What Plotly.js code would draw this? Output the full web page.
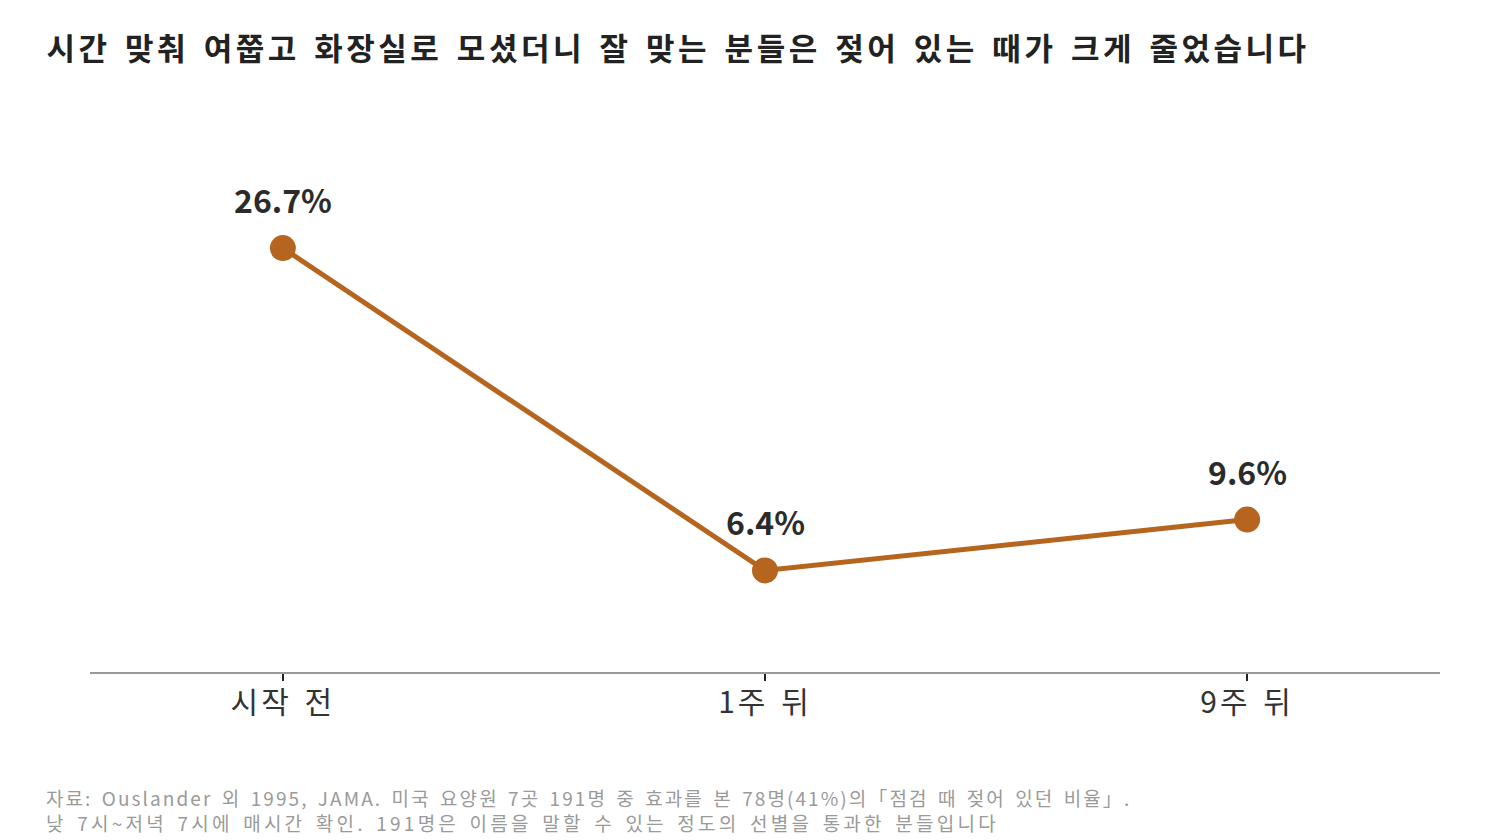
<!DOCTYPE html>
<html><head><meta charset="utf-8">
<script src="https://cdn.plot.ly/plotly-3.0.1.min.js"></script>
<style>html,body{margin:0;padding:0;background:#fff;}#chart{width:1500px;height:840px;}</style>
</head><body><div id="chart"></div>
<script>
const categories = ['시작 전', '1주 뒤', '9주 뒤'];
const wetRate = [26.7, 6.4, 9.6];
const valueLabels = ['26.7%', '6.4%', '9.6%'];
const titleText = '시간 맞춰 여쭙고 화장실로 모셨더니 잘 맞는 분들은 젖어 있는 때가 크게 줄었습니다';
const footerLines = [
  '자료: Ouslander 외 1995, JAMA. 미국 요양원 7곳 191명 중 효과를 본 78명(41%)의「점검 때 젖어 있던 비율」.',
  '낮 7시~저녁 7시에 매시간 확인. 191명은 이름을 말할 수 있는 정도의 선별을 통과한 분들입니다'
];
const footerWidths = [1085, 953];

const font = '"Noto Sans CJK KR", "Noto Sans", sans-serif';
const xIdx = categories.map((c, i) => i);

const trace = {
  x: xIdx, y: wetRate, type: 'scatter', mode: 'lines+markers',
  line: {color: '#B5651D', width: 5},
  marker: {color: '#B5651D', size: 26},
  cliponaxis: false, hoverinfo: 'skip'
};

const valueAnnotations = xIdx.map((xi, i) => ({
  x: xi, y: wetRate[i], xref: 'x', yref: 'y', text: valueLabels[i],
  showarrow: false, yshift: 49, xanchor: 'center', yanchor: 'middle',
  font: {family: font, size: 32, color: '#2b2b2b', weight: 'bold'}
}));

const footerAnnotation = {
  text: footerLines.join('<br>'), xref: 'paper', yref: 'paper', x: -0.033, xanchor: 'left',
  y: -0.2447, yanchor: 'middle', align: 'left', showarrow: false, borderpad: 0,
  font: {family: font, size: 19, color: '#9a9a9a'}
};

const layout = {
  width: 1500, height: 840,
  paper_bgcolor: '#fff', plot_bgcolor: '#fff',
  margin: {l: 90, r: 60, t: 110, b: 168},
  showlegend: false,
  font: {family: font},
  title: {text: titleText, x: 0.031, xanchor: 'left', y: 0.941, yanchor: 'middle',
          font: {family: font, size: 31, color: '#222', weight: 'bold'}},
  xaxis: {range: [-0.4, 2.4], tickvals: xIdx, ticktext: categories,
          showgrid: false, zeroline: false, showline: true, linecolor: '#999', linewidth: 2,
          ticks: 'outside', ticklen: 7, tickcolor: '#222', tickwidth: 2,
          ticklabelstandoff: -4,
          tickfont: {family: font, size: 30, color: '#333'}, fixedrange: true},
  yaxis: {range: [0, 35.4], visible: false, showgrid: false, zeroline: false, fixedrange: true},
  annotations: valueAnnotations.concat([footerAnnotation])
};

function spreadTo(el, target, wordSp) {
  el.style.wordSpacing = wordSp + 'px';
  el.style.letterSpacing = '0px';
  const w = el.getComputedTextLength();
  const n = el.textContent.length;
  if (n > 1) el.style.letterSpacing = ((target - w) / n).toFixed(2) + 'px';
}

Plotly.newPlot('chart', [trace], layout, {displayModeBar: false, staticPlot: true}).then(gd => {
  const t = gd.querySelector('.gtitle');
  if (t) spreadTo(t, 1263, 4);
  gd.querySelectorAll('.annotation-text').forEach(el => {
    const lines = el.querySelectorAll('tspan.line');
    if (lines.length === footerLines.length) {
      lines.forEach((ln, i) => spreadTo(ln, footerWidths[i], 3));
    }
  });
  gd.querySelectorAll('.xtick text').forEach(el => { el.style.letterSpacing = '3px'; el.style.wordSpacing = '3px'; });
});
</script>
</body></html>
